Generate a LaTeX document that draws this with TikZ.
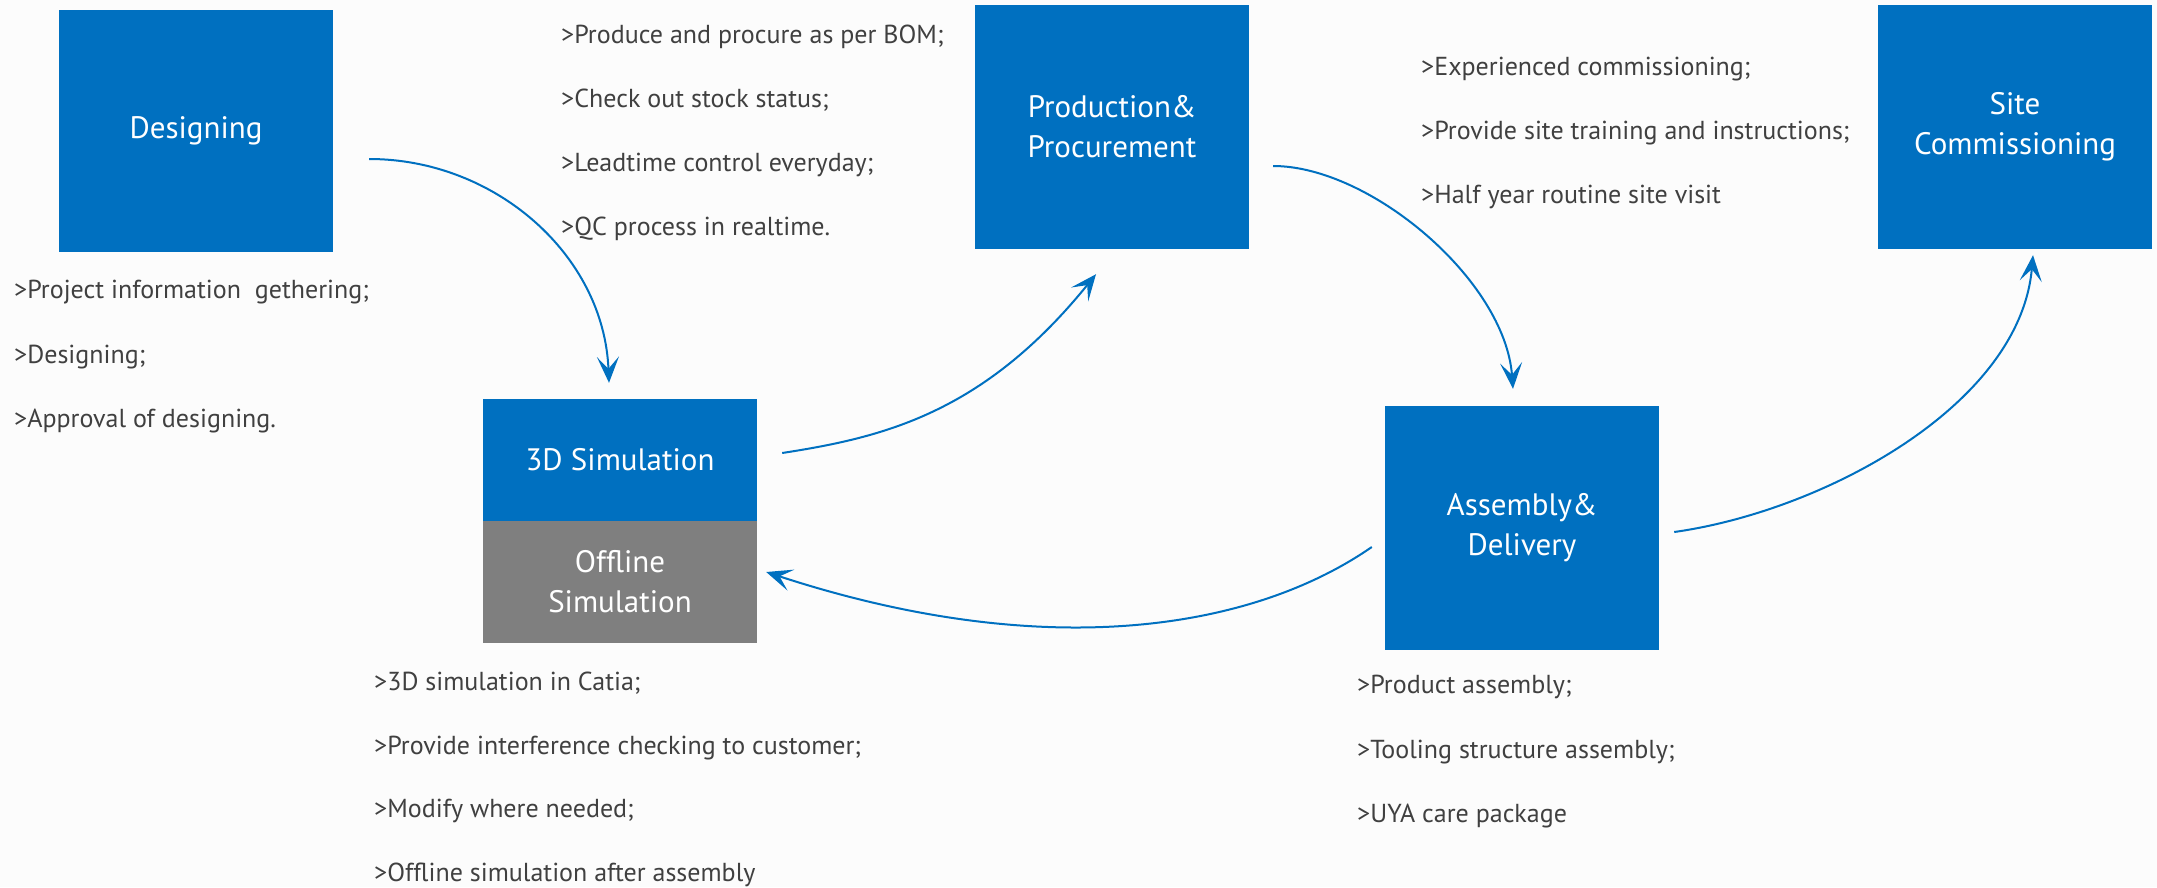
\documentclass[tikz,border=0pt]{standalone}
\usepackage{fontspec}
\setmainfont{PT Sans}
\usetikzlibrary{arrows.meta,calc}
\definecolor{boxblue}{HTML}{0070C0}
\definecolor{boxgray}{HTML}{7F7F7F}
\definecolor{txtgray}{HTML}{404040}
\definecolor{bgc}{HTML}{FCFCFC}
\begin{document}
\begin{tikzpicture}[x=1pt,y=-1pt,
  stagebox/.style={rectangle, fill=boxblue, text=white, minimum width=274pt, minimum height=244pt, inner sep=0pt, align=center, font=\fontsize{31}{40}\selectfont},
  halfbox/.style={stagebox, minimum height=122pt},
  note/.style={anchor=base west, text=txtgray, inner sep=0pt, font=\fontsize{26}{30}\selectfont},
  flow/.style={draw=boxblue, line width=2pt, -{Stealth[length=26pt,width=22pt,inset=12pt]}}
]
\fill[bgc] (0,0) rectangle (2157,887);
\useasboundingbox (0,0) rectangle (2157,887);

% stage boxes
\node[stagebox, minimum height=242pt] (des) at (196,131) {Designing};
\node[stagebox] (prod) at (1112,127) {Production\&\\Procurement};
\node[stagebox] (site) at (2015,127) {Site\\Commissioning};
\node[halfbox] (sim) at (620,460) {3D Simulation};
\node[halfbox, fill=boxgray] (off) at (620,582) {Offline\\Simulation};
\node[stagebox] (asm) at (1522,528) {Assembly\&\\Delivery};

% notes
\node[note] (d1) at (14,298) {>Project information~ gethering;};
\node[note] (d2) at (14,363) {>Designing;};
\node[note] (d3) at (14,427) {>Approval of designing.};

\node[note] (p1) at (561,43) {>Produce and procure as per BOM;};
\node[note] (p2) at (561,107) {>Check out stock status;};
\node[note] (p3) at (561,171) {>Leadtime control everyday;};
\node[note] (p4) at (561,235) {>QC process in realtime.};

\node[note] (s1) at (1421,75) {>Experienced commissioning;};
\node[note] (s2) at (1421,139) {>Provide site training and instructions;};
\node[note] (s3) at (1421,203) {>Half year routine site visit};

\node[note] (m1) at (374,690) {>3D simulation in Catia;};
\node[note] (m2) at (374,754) {>Provide interference checking to customer;};
\node[note] (m3) at (374,817) {>Modify where needed;};
\node[note] (m4) at (374,881) {>Offline simulation after assembly};

\node[note] (a1) at (1357,693) {>Product assembly;};
\node[note] (a2) at (1357,758) {>Tooling structure assembly;};
\node[note] (a3) at (1357,822) {>UYA care package};

% connectors
\draw[flow] ($(des.east)+(36,28)$) .. controls (495,159) and (604,255) .. ($(sim.north)+(-11,-16)$);
\draw[flow] ($(sim.east)+(25,-7)$) .. controls (882,437.5) and (983,414) .. ($(prod.south)+(-16,25)$);
\draw[flow] ($(prod.east)+(24,39)$) .. controls (1370,166) and (1505,280) .. ($(asm.north)+(-9,-17)$);
\draw[flow] ($(asm.west)+(-13,19)$) .. controls (1249,632) and (1041,662) .. ($(off.east)+(9,-10)$);
\draw[flow] ($(asm.east)+(15,4)$) .. controls (1824,511) and (2020,405) .. ($(site.south)+(18,6)$);
\end{tikzpicture}
\end{document}
